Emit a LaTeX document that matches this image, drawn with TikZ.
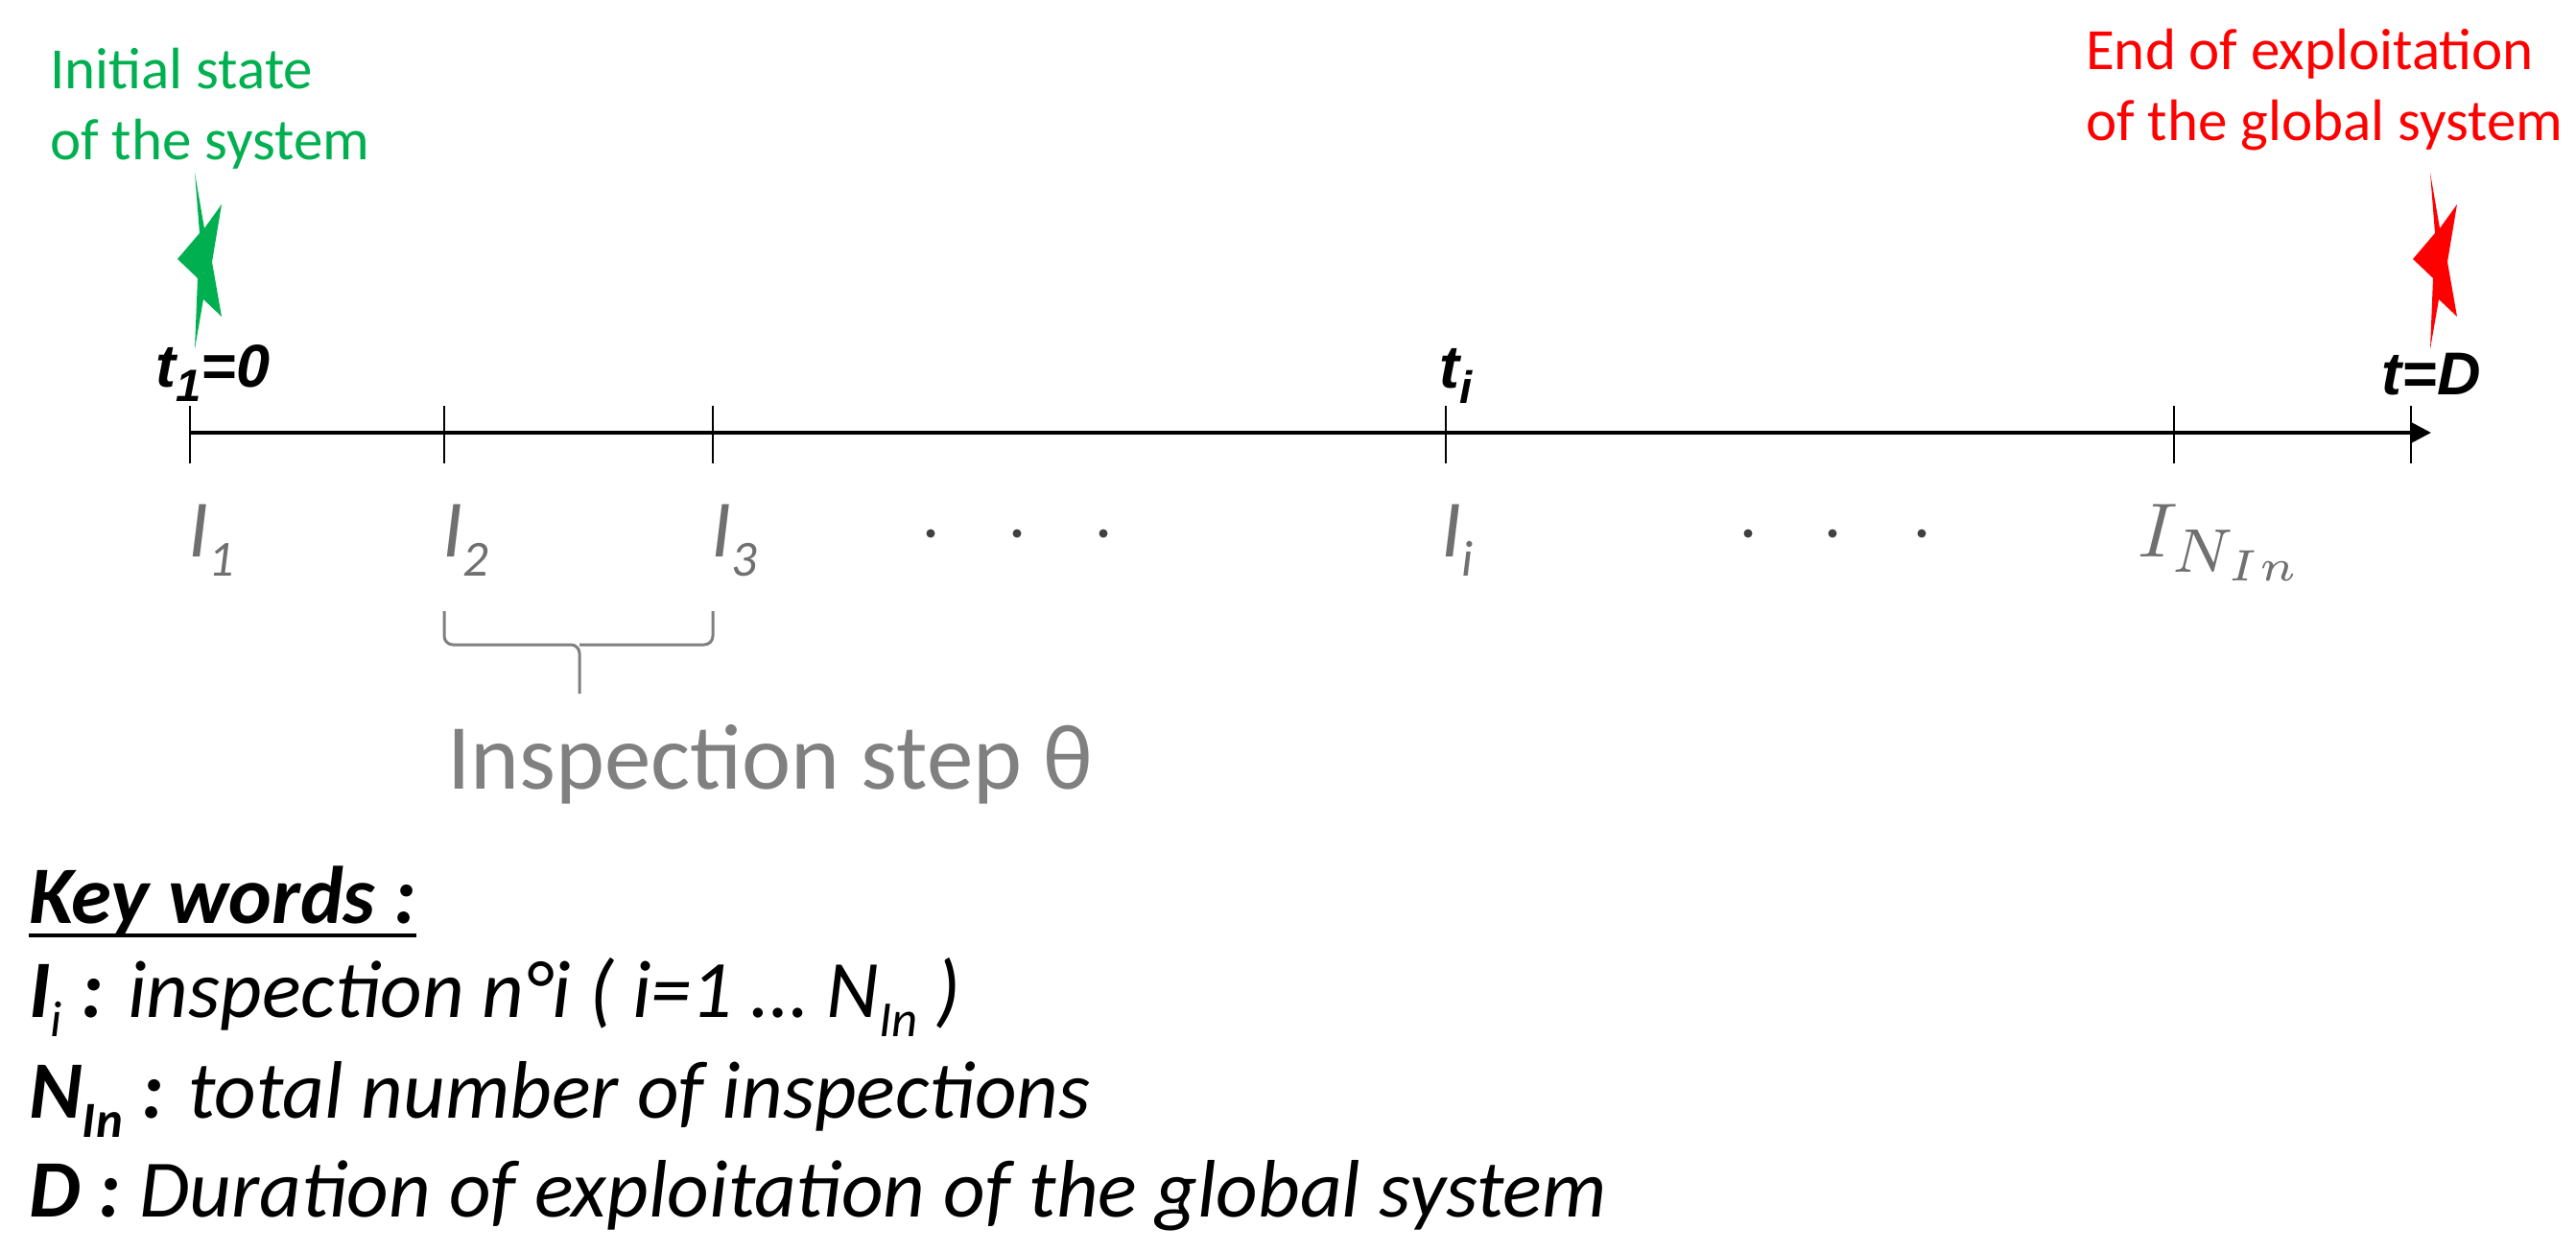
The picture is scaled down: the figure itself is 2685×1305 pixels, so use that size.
\documentclass[tikz,border=0pt]{standalone}
\usepackage{fontspec}
\setmainfont{Carlito}
\newfontfamily\arialfont{Liberation Sans}
\usepackage{graphicx}
\usetikzlibrary{arrows.meta,calc}
\definecolor{kgreen}{RGB}{0,176,80}
\definecolor{kred}{RGB}{255,0,0}
\definecolor{kgray}{RGB}{112,112,112}
\definecolor{bgray}{RGB}{128,128,128}
\newcommand{\lsub}[2][0.62]{\raisebox{-0.24em}{\scalebox{#1}{#2}}}
\begin{document}
\begin{tikzpicture}[x=1pt,y=-1pt,
  lbl/.style={inner sep=0pt, anchor=base west},
  note/.style={lbl, font=\fontsize{61}{72}\selectfont},
  tlab/.style={lbl, font=\arialfont\bfseries\itshape\fontsize{63}{75}\selectfont},
  ilab/.style={lbl, text=kgray, font=\itshape\fontsize{85}{100}\selectfont},
  kwline/.style={lbl, font=\itshape\fontsize{85}{100}\selectfont},
  tickline/.style={line width=2.5pt},
  axisline/.style={line width=4pt, -{Triangle[length=22pt,width=22pt]}},
  dotmark/.style={fill=black!75, draw=none},
  flash/.pic={\fill (0,0) -- (10,58) -- (28,33) -- (18,93) -- (28,150) -- (9,132) -- (0,184) -- (3,110) -- (-18,90) -- (5,63) -- cycle;}
]
\useasboundingbox (0,0) rectangle (2685,1305);

% notes
\node[note, text=kgreen] (g1) at (52,93) {Initial state};
\node[note, text=kgreen] (g2) at (52,167) {of the system};
\node[note, text=kred] (r1) at (2174,73) {End of exploitation};
\node[note, text=kred] (r2) at (2174,147) {of the global system};
\pic[kgreen] at (203,180) {flash};
\pic[kred] at (2533,180) {flash};

% axis
\coordinate (a0) at (198,451);
\coordinate (aend) at (2534,451);
\draw[axisline] (a0) -- (aend);
\foreach \n/\x in {k1/198,k2/463,k3/743,ki/1507,kn/2266,kd/2513}{
  \coordinate (\n) at (\x,451);
  \draw[tickline] ($(\n)+(0,-28)$) -- ($(\n)+(0,32)$);
}

% time labels
\node[tlab] (t1) at (162,403) {t\lsub[0.75]{1}=0};
\node[tlab] (ti) at (1500,405) {t\lsub[0.75]{i}};
\node[tlab] (td) at (2482,411) {t=D};

% inspection labels
\node[ilab] (I1) at (196,580) {I\lsub{1}};
\node[ilab] (I2) at (461,580) {I\lsub{2}};
\node[ilab] (I3) at (741,580) {I\lsub{3}};
\node[ilab] (Ii) at (1502,580) {I\lsub{i}};
\node[lbl, text=kgray] (In) at (2228,580) {\scalebox{8}{$I_{\mbox{\scalebox{1.15}{$\scriptstyle N_{In}$}}}$}};
\foreach \x in {970,1060,1150,1822,1910,2003}{
  \fill[dotmark] (\x,556) circle (4.5);
}

% brace
\draw[bgray, line width=3pt, rounded corners=9pt] (463,637) |- (604,672) -- (604,723);
\draw[bgray, line width=3pt, rounded corners=9pt] (743,637) |- (604,672);
\node[lbl, text=bgray, font=\fontsize{97}{112}\selectfont] (step) at (466,822) {Inspection step θ};

% key words
\node[kwline] (kw) at (30,962) {\bfseries Key words :};
\draw[line width=4.5pt] ($(kw.base west)+(0,13)$) -- ($(kw.base east)+(0,13)$);
\node[kwline] (l1) at (30,1060) {\textbf{I}\lsub{i} \textbf{:} inspection n°i ( i=1 … N\lsub{In} )};
\node[kwline] (l2) at (30,1165) {\textbf{N}\lsub{\textbf{In}} \textbf{:} total number of inspections};
\node[kwline] (l3) at (30,1268) {\textbf{D :} Duration of exploitation of the global system};
\end{tikzpicture}
\end{document}
